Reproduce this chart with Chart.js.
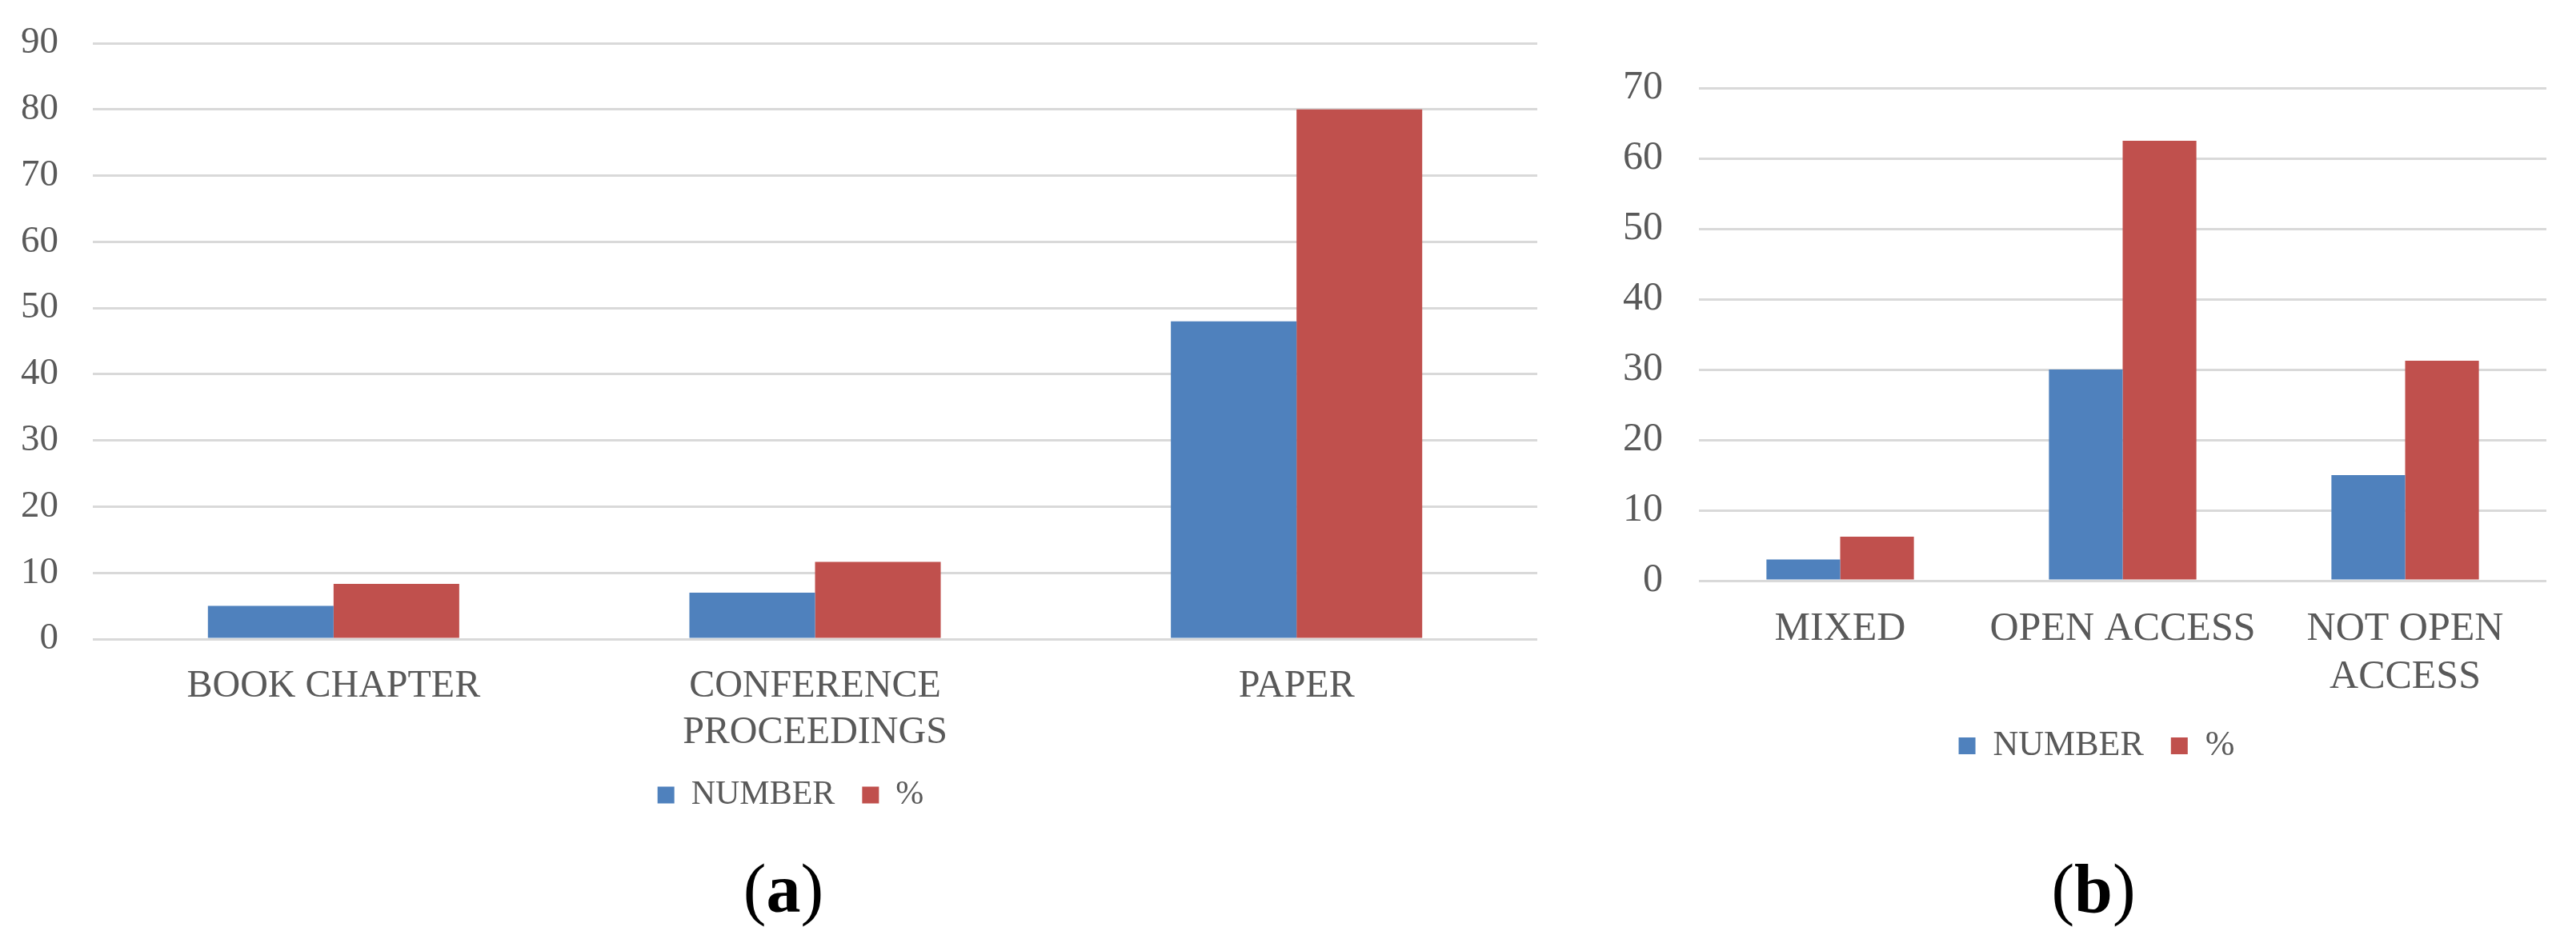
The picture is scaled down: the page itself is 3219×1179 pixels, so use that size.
<!DOCTYPE html>
<html>
<head>
<meta charset="utf-8">
<script src="https://cdn.jsdelivr.net/npm/chart.js@4.4.0/dist/chart.umd.min.js"></script>
<style>
  html, body { margin: 0; padding: 0; background: #fff; }
  #page { position: relative; width: 3219px; height: 1179px; overflow: hidden; background: #fff; }
  canvas { position: absolute; top: 0; }
  #chartA { left: 0; }
  #chartB { left: 2020px; }
  .panel-label {
    position: absolute; top: 1068px; width: 200px; text-align: center;
    font-family: 'Liberation Serif', 'Times New Roman', serif;
    font-size: 86px; line-height: 86px; color: #000;
  }
</style>
</head>
<body>
<div id="page">
  <canvas id="chartA" width="1976" height="1060"></canvas>
  <canvas id="chartB" width="1200" height="1000"></canvas>
  <div class="panel-label" style="left:879px">(<b>a</b>)</div>
  <div class="panel-label" style="left:2516px">(<b>b</b>)</div>
</div>
<script>
  // panel (a): document types
  const typeLabels = [['BOOK CHAPTER'], ['CONFERENCE', 'PROCEEDINGS'], ['PAPER']];
  const typeNumber = [5, 7, 48];
  const typePercent = [8.33, 11.67, 80];
  const typeAxisMax = 90;

  // panel (b): access type
  const accessLabels = [['MIXED'], ['OPEN ACCESS'], ['NOT OPEN', 'ACCESS']];
  const accessNumber = [3, 30, 15];
  const accessPercent = [6.25, 62.5, 31.25];
  const accessAxisMax = 70;

  const axisStep = 10;
  const seriesNames = ['NUMBER', '%'];

  const BLUE = '#4F81BD';
  const RED = '#C0504D';
  const TEXT = '#595959';
  const GRID = '#D9D9D9';
  const SERIF = "'Liberation Serif', 'Times New Roman', serif";

  function makeChart(id, labels, numbers, percents, axisMax, cfg) {
    const ctx = document.getElementById(id).getContext('2d');
    return new Chart(ctx, {
      type: 'bar',
      data: {
        labels: labels,
        datasets: [{
          label: seriesNames[0],
          data: numbers,
          backgroundColor: BLUE,
          borderWidth: 0
        }, {
          label: seriesNames[1],
          data: percents,
          backgroundColor: RED,
          borderWidth: 0
        }]
      },
      options: {
        responsive: false,
        animation: false,
        devicePixelRatio: 1,
        categoryPercentage: 0.522,
        barPercentage: 1.0,
        layout: {
          padding: { top: cfg.top, left: 0, right: 0, bottom: cfg.bottom }
        },
        plugins: {
          tooltip: { enabled: false },
          legend: {
            position: 'bottom',
            labels: {
              color: TEXT,
              boxWidth: 21,
              boxHeight: 21,
              padding: 34,
              font: { family: SERIF, size: cfg.legendSize }
            }
          }
        },
        scales: {
          x: {
            grid: { display: false },
            border: { display: false },
            ticks: {
              color: TEXT,
              autoSkip: false,
              maxRotation: 0,
              minRotation: 0,
              padding: cfg.xPad,
              font: { family: SERIF, size: cfg.xSize, lineHeight: 1.2 }
            },
            afterFit: function(scale) { scale.height = cfg.xHeight; }
          },
          y: {
            min: 0,
            max: axisMax,
            // invisible tick marks give the gap between labels and gridlines
            grid: { color: GRID, lineWidth: 3, drawTicks: true, tickLength: cfg.yGap, tickColor: 'rgba(0,0,0,0)' },
            border: { display: false },
            ticks: {
              stepSize: axisStep,
              color: TEXT,
              padding: 0,
              font: { family: SERIF, size: cfg.ySize }
            },
            afterFit: function(scale) { scale.width = cfg.yWidth; }
          },
          // empty right-hand strip so the legend stays centred on the canvas
          pad: {
            type: 'linear',
            position: 'right',
            grid: { display: false },
            border: { display: false },
            ticks: { display: false },
            afterFit: function(scale) { scale.width = cfg.padRight; }
          }
        }
      }
    });
  }

  makeChart('chartA', typeLabels, typeNumber, typePercent, typeAxisMax, {
    top: 54, bottom: 35,
    yWidth: 116, yGap: 43, ySize: 47,
    padRight: 55,
    xHeight: 140, xPad: 23, xSize: 48,
    legendSize: 42
  });

  makeChart('chartB', accessLabels, accessNumber, accessPercent, accessAxisMax, {
    top: 110, bottom: 35.5,
    yWidth: 103, yGap: 45, ySize: 50,
    padRight: 38,
    xHeight: 150.5, xPad: 23, xSize: 50,
    legendSize: 44
  });
</script>
</body>
</html>
